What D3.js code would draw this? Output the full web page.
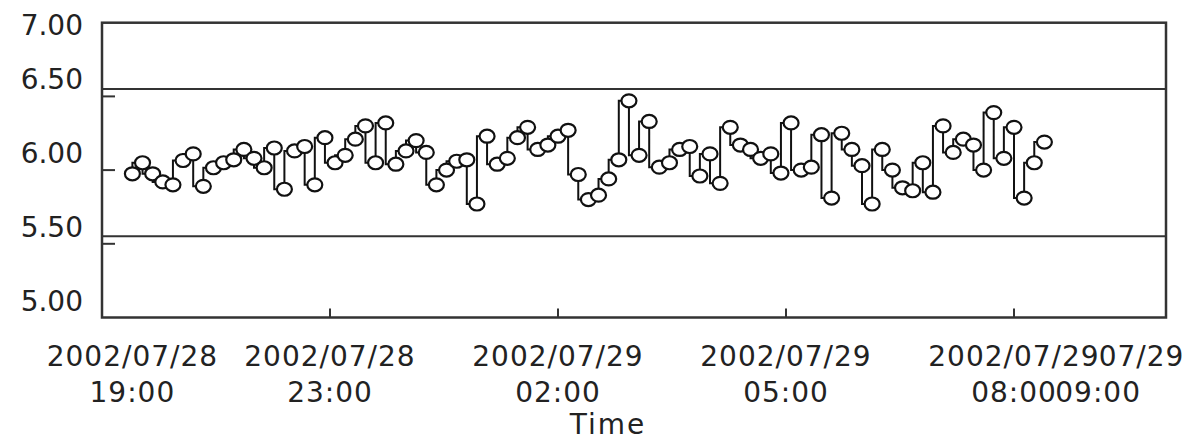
<!DOCTYPE html>
<html>
<head>
<meta charset="utf-8">
<script src="https://cdn.jsdelivr.net/npm/d3@7"></script>
<style>
  body { margin: 0; background: #fff; }
  text { font-family: "DejaVu Sans", sans-serif; fill: #222; }
</style>
</head>
<body>
<div id="chart"></div>
<script>
// values, one per category (first one sits at category 3)
var values = [5.975, 6.05, 5.975, 5.92, 5.90, 6.065, 6.11, 5.89, 6.016, 6.05,
              6.07, 6.14, 6.08, 6.016, 6.15, 5.87, 6.13, 6.16, 5.90, 6.22,
              6.05, 6.10, 6.21, 6.30, 6.05, 6.32, 6.04, 6.13, 6.20, 6.12,
              5.90, 6.00, 6.06, 6.07, 5.77, 6.23, 6.04, 6.08, 6.22, 6.29,
              6.14, 6.17, 6.23, 6.27, 5.97, 5.80, 5.83, 5.94, 6.07, 6.47,
              6.10, 6.33, 6.02, 6.05, 6.14, 6.16, 5.96, 6.11, 5.91, 6.29,
              6.17, 6.14, 6.08, 6.11, 5.98, 6.32, 6.00, 6.02, 6.24, 5.81,
              6.25, 6.14, 6.03, 5.77, 6.14, 6.00, 5.88, 5.86, 6.05, 5.85,
              6.30, 6.12, 6.21, 6.17, 6.00, 6.39, 6.08, 6.29, 5.81, 6.05,
              6.19];
var firstCategory = 3;
var categoryCount = 105;

// x tick labels (positions in category units)
// the last date is partly hidden behind the one before it, only "07/29" shows
var tickCats  = [3, 22.5, 45, 67.5, 90, 98.3];
var tickDates = ["2002/07/28", "2002/07/28", "2002/07/29", "2002/07/29", "2002/07/29", "07/29"];
var tickTimes = ["19:00", "23:00", "02:00", "05:00", "08:00", "09:00"];

// y ticks and reference lines
var yTicks = [5.0, 5.5, 6.0, 6.5, 7.0];
var refLines = [5.5, 6.5];

var W = 1198, H = 441;
var plotLeft = 102, plotRight = 1166, plotTop = 22.7, plotBottom = 317.5;

var svg = d3.select("#chart")
  .append("svg")
    .attr("width", W)
    .attr("height", H);

var x = d3.scaleLinear()
  .domain([0, categoryCount])
  .range([plotLeft, plotRight]);

var y = d3.scaleLinear()
  .domain([5, 7])
  .range([plotBottom, plotTop]);

// reference lines (they sit a little above the ticks in the original)
svg.selectAll(".ref")
  .data(refLines)
  .enter().append("line")
    .attr("x1", plotLeft).attr("x2", plotRight)
    .attr("y1", function(d) { return y(d) - 7.5; })
    .attr("y2", function(d) { return y(d) - 7.5; })
    .attr("stroke", "#333")
    .attr("stroke-width", 2);

// frame
svg.append("rect")
  .attr("x", plotLeft).attr("y", plotTop)
  .attr("width", plotRight - plotLeft).attr("height", plotBottom - plotTop)
  .attr("fill", "none")
  .attr("stroke", "#333")
  .attr("stroke-width", 2.5);

// inner tick marks on the left
svg.selectAll(".ytick")
  .data(yTicks.filter(function(d) { return d > 5 && d < 7; }))
  .enter().append("line")
    .attr("x1", plotLeft).attr("x2", plotLeft + 13)
    .attr("y1", function(d) { return y(d); })
    .attr("y2", function(d) { return y(d); })
    .attr("stroke", "#333")
    .attr("stroke-width", 2);

// y labels
svg.selectAll(".ylab")
  .data(yTicks)
  .enter().append("text")
    .attr("x", 83)
    .attr("y", function(d) { return Math.max(y(d) - 17, 25); })
    .attr("dy", "0.36em")
    .attr("text-anchor", "end")
    .style("font-size", "28px")
    .text(function(d) { return d3.format(".2f")(d); });

// bottom tick marks (inner), not at the first/last label
svg.selectAll(".xtick")
  .data(tickCats.slice(1, 5))
  .enter().append("line")
    .attr("x1", function(d) { return x(d); })
    .attr("x2", function(d) { return x(d); })
    .attr("y1", plotBottom).attr("y2", plotBottom - 9)
    .attr("stroke", "#333")
    .attr("stroke-width", 2);

// x labels
var prevRight = 0;
tickCats.forEach(function(c, i) {
  var last = i === tickCats.length - 1;
  var t1 = svg.append("text")
    .attr("x", last ? prevRight : x(c))
    .attr("y", 366)
    .attr("text-anchor", last ? "start" : "middle")
    .style("font-size", "28px")
    .style("letter-spacing", "1px")
    .text(tickDates[i]);
  var bb = t1.node().getBBox();
  prevRight = bb.x + bb.width - 1;
  svg.append("text")
    .attr("x", x(c))
    .attr("y", 402)
    .attr("text-anchor", "middle")
    .style("font-size", "28px")
    .style("letter-spacing", "1px")
    .text(tickTimes[i]);
});

// axis title
svg.append("text")
  .attr("x", 608)
  .attr("y", 434)
  .attr("text-anchor", "middle")
  .style("font-size", "28px")
  .style("letter-spacing", "2px")
  .text("Time");

// the line: vertical first, then across to the next point
var line = d3.line()
  .curve(d3.curveStepBefore)
  .x(function(d, i) { return x(i + firstCategory); })
  .y(function(d) { return y(d); });

svg.append("path")
  .datum(values)
  .attr("d", line)
  .attr("fill", "none")
  .attr("stroke", "#111")
  .attr("stroke-width", 2);

// the markers
svg.selectAll(".dot")
  .data(values)
  .enter().append("ellipse")
    .attr("cx", function(d, i) { return x(i + firstCategory); })
    .attr("cy", function(d) { return y(d); })
    .attr("rx", 7.5)
    .attr("ry", 6.5)
    .attr("fill", "#fff")
    .attr("stroke", "#111")
    .attr("stroke-width", 2.2);
</script>
</body>
</html>
